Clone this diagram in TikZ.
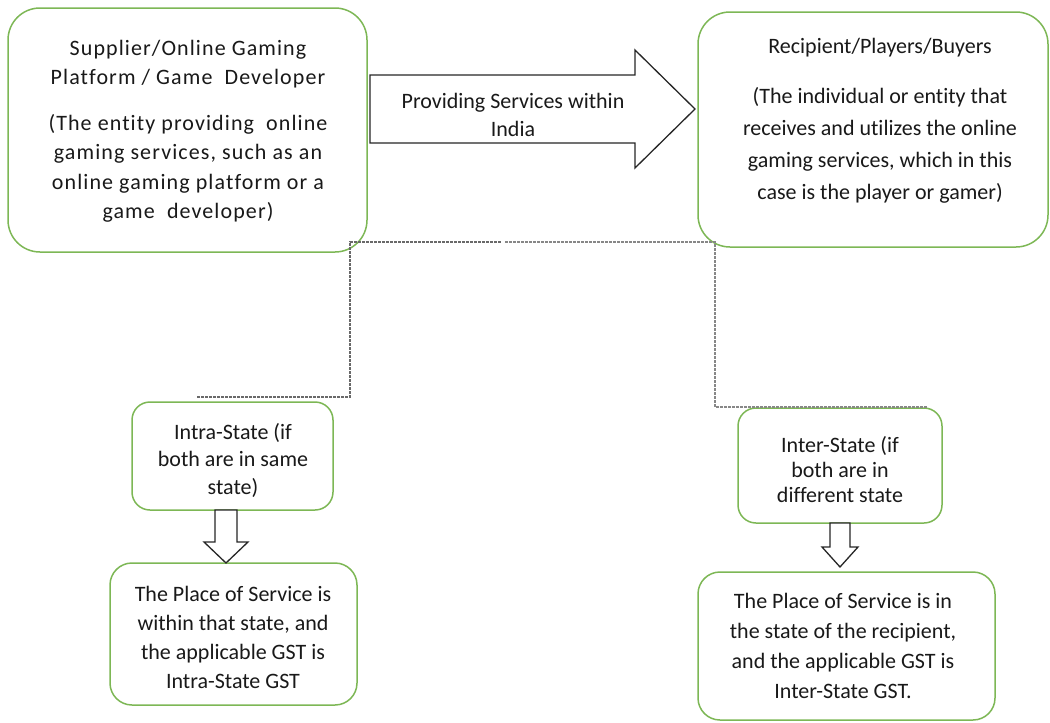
\documentclass[tikz,border=0pt]{standalone}
\usepackage{fontspec}
\setmainfont[Ligatures={NoCommon,NoContextual,NoRare}]{Carlito}
\newfontfamily\widefont[LetterSpace=5,Ligatures={NoCommon,NoContextual,NoRare}]{Carlito}
\usetikzlibrary{calc}
\definecolor{boxgreen}{RGB}{125,183,85}
\definecolor{dotgray}{RGB}{105,105,105}
\definecolor{txt}{RGB}{25,25,25}
\tikzset{
  gbox/.style={draw=boxgreen, line width=1.5pt, fill=white, rectangle, inner sep=0pt},
  txtnode/.style={align=center, text=txt, inner sep=0pt},
  dotline/.style={draw=dotgray, line width=2.5pt, dash pattern=on 2.6pt off 1.4pt},
  hollow/.style={draw=black!85, line width=1.3pt, fill=white, line join=miter},
}
\begin{document}
\begin{tikzpicture}[x=1pt,y=-1pt]
\useasboundingbox (0,0) rectangle (1050,723);
% connector points (dotted)
\coordinate (d1) at (197,397);
\coordinate (d2) at (350,397);
\coordinate (d3) at (350,242);
\coordinate (d4) at (501,242);
\coordinate (d5) at (505,242);
\coordinate (d6) at (715,242);
\coordinate (d7) at (715,407);
\coordinate (d8) at (927,407);
% boxes
\node[gbox, rounded corners=32pt, minimum width=359pt, minimum height=244pt] (A) at (187.5,130) {};
\node[gbox, rounded corners=32pt, minimum width=350pt, minimum height=235pt] (C) at (873,129.5) {};
\node[gbox, rounded corners=18pt, minimum width=201pt, minimum height=108pt] (intra) at (232.5,456) {};
\node[gbox, rounded corners=22pt, minimum width=247pt, minimum height=142pt] (BL) at (233.5,634) {};
\node[gbox, rounded corners=18pt, minimum width=204pt, minimum height=115pt] (inter) at (840,465.5) {};
\node[gbox, rounded corners=22pt, minimum width=297pt, minimum height=148pt] (BR) at (846.5,646) {};
\draw[dotline] (d1) -- (d2) -- (d3) -- (d4);
\draw[dotline, draw=dotgray!80] (d5) -- (d6) -- (d7) -- (d8);
% big arrow
\draw[hollow] (370,75) -- (635,75) -- (635,50) -- (695,109) -- (635,168) -- (635,143) -- (370,143) -- cycle;
% down arrows
\coordinate (a1) at (226,510);
\coordinate (a1t) at (226,563);
\draw[hollow] ($(a1)+(-11,0)$) -- ($(a1)+(11,0)$) -- ($(a1)+(11,32)$) -- ($(a1)+(22,32)$) -- (a1t) -- ($(a1)+(-22,32)$) -- ($(a1)+(-11,32)$) -- cycle;
\coordinate (a2) at (840,523);
\coordinate (a2t) at (840,567);
\draw[hollow] ($(a2)+(-10,0)$) -- ($(a2)+(10,0)$) -- ($(a2)+(10,24)$) -- ($(a2)+(18,24)$) -- (a2t) -- ($(a2)+(-18,24)$) -- ($(a2)+(-10,24)$) -- cycle;
% texts
\node[txtnode, font=\widefont\fontsize{22}{29.5}\selectfont] (tA) at (188,131)
  {Supplier/Online Gaming\\Platform / Game\ \ Developer\\[16pt](The entity providing\ \ online\\gaming services, such as an\\online gaming platform or a\\game\ \ developer)};
\node[txtnode, font=\fontsize{22}{32}\selectfont] (tC) at (880,121)
  {Recipient/Players/Buyers\\[18pt](The individual or entity that\\receives and utilizes the online\\gaming services, which in this\\case is the player or gamer)};
\node[txtnode, font=\fontsize{22}{28}\selectfont] (tArrow) at (513,115)
  {Providing Services within\\India};
\node[txtnode, font=\fontsize{22}{27.5}\selectfont] (tIntra) at (233,460)
  {Intra-State (if\\both are in same\\state)};
\node[txtnode, font=\fontsize{22}{29}\selectfont] (tBL) at (233,637)
  {The Place of Service is\\within that state, and\\the applicable GST is\\Intra-State GST};
\node[txtnode, font=\fontsize{22}{25}\selectfont] (tInter) at (840,470)
  {Inter-State (if\\both are in\\different state};
\node[txtnode, font=\fontsize{22}{30}\selectfont] (tBR) at (843,646)
  {The Place of Service is in\\the state of the recipient,\\and the applicable GST is\\Inter-State GST.};
\end{tikzpicture}
\end{document}
